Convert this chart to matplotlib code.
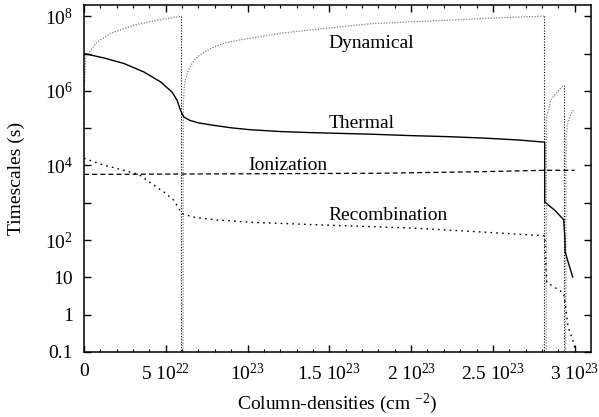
import matplotlib
matplotlib.use("Agg")
import matplotlib.pyplot as plt
import numpy as np
from matplotlib.ticker import FixedLocator, NullLocator

plt.rcParams['font.family'] = ['Liberation Serif', 'DejaVu Serif']
plt.rcParams['mathtext.fontset'] = 'custom'
plt.rcParams['mathtext.rm'] = 'Liberation Serif'
plt.rcParams['mathtext.it'] = 'Liberation Serif:italic'

# column densities in units of 1e22 cm^-2
SCALE = 1e22

thermal_x = [0, 1.22, 2.44, 3.66, 4.68, 5.38, 5.69, 5.90, 6.10, 6.46, 7.0, 7.87, 9.0,
             10.12, 12.0, 13.78, 17.44, 20.0, 22.32, 24.5, 26.59, 28.17,
             28.17, 28.8, 29.33, 29.40, 29.42, 29.65, 29.88]
thermal_y = [1.0e7, 7.6e6, 5.4e6, 3.2e6, 1.74e6, 9.3e5, 5.6e5, 3.0e5, 2.0e5, 1.62e5,
             1.38e5, 1.2e5, 1.02e5, 9.1e4, 8.1e4, 7.6e4, 6.9e4, 6.3e4, 5.9e4, 5.4e4,
             4.8e4, 4.2e4, 1.05e3, 620, 350, 120, 48, 22, 10.2]

recomb_x = [0, 1.22, 2.44, 3.35, 4.07, 4.88, 5.49, 5.79, 5.99, 6.71, 8.0, 10.12, 12.5,
            15.0, 17.44, 20.0, 22.32, 25.0, 28.17, 28.29, 28.8, 29.33, 29.45, 29.6,
            29.88, 30.1]
recomb_y = [1.55e4, 1.02e4, 7.4e3, 5.75e3, 3.4e3, 1.95e3, 1.17e3, 710, 510, 410, 350,
            300, 275, 250, 230, 210, 185, 158, 130, 7.4, 5.3, 3.8, 1.6, 0.47, 0.21, 0.09]

ion_x = [0, 18, 24, 28.17, 30]
ion_y = [5750, 6170, 6760, 7410, 7410]

dyn_segments_x = [
    [0, 0.05, 0.1, 0.41, 0.81, 1.63, 3.05, 4.47, 5.93],
    [6.05, 6.07, 6.12, 6.16, 6.3, 6.46, 6.8, 7.2, 7.8, 8.6, 9.5, 10.6, 12.0, 13.66,
     15.5, 17.56, 20.5, 23.54, 26.0, 28.11],
    [28.26, 28.27, 28.4, 28.55, 28.8, 29.0, 29.33],
    [29.45, 29.47, 29.55, 29.7, 29.94],
]
dyn_segments_y = [
    [5.6e5, 2.5e6, 7.9e6, 1.23e7, 2.04e7, 3.47e7, 5.75e7, 7.76e7, 1.0e8],
    [1e-3, 4.0e5, 1.12e6, 1.58e6, 2.8e6, 4.3e6, 7.1e6, 1.0e7, 1.41e7, 1.9e7, 2.3e7,
     2.75e7, 3.5e7, 4.2e7, 5.1e7, 6.3e7, 7.2e7, 8.3e7, 9.3e7, 1.0e8],
    [1e-3, 2.0e5, 3.0e5, 5.6e5, 8.0e5, 1.0e6, 1.4e6],
    [1e-3, 5.0e4, 1.2e5, 2.0e5, 3.2e5],
]
dyn_drops = [True, True, True, False]

x_ticks = [0, 5, 10, 15, 20, 25, 30]
x_ticklabels = ['0', r'$\mathregular{5\ 10^{22}}$', r'$\mathregular{10^{23}}$',
                r'$\mathregular{1.5\ 10^{23}}$', r'$\mathregular{2\ 10^{23}}$',
                r'$\mathregular{2.5\ 10^{23}}$', r'$\mathregular{3\ 10^{23}}$']
y_ticks = [0.1, 1, 10, 1e2, 1e3, 1e4, 1e5, 1e6, 1e7, 1e8]
y_ticklabels = ['0.1', '1', '10', r'$\mathregular{10^{2}}$', '', r'$\mathregular{10^{4}}$', '',
                r'$\mathregular{10^{6}}$', '', r'$\mathregular{10^{8}}$']

labels = [("Dynamical", 17.56, 10**7.28), ("Thermal", 16.95, 10**5.13),
          ("Ionization", 12.44, 10**4.01), ("Recombination", 18.6, 10**2.67)]

fig = plt.figure(figsize=(5.99, 4.17), dpi=100)
ax = fig.add_axes([84/599, 1-352/417, (591-84)/599, (352-5)/417])
ax.set_yscale('log')
ax.set_xlim(0, 31.0 * SCALE)
ax.set_ylim(0.1, 10**8.3)

# dynamical
for sx, sy, drop in zip(dyn_segments_x, dyn_segments_y, dyn_drops):
    xs = np.array(sx) * SCALE
    ax.plot(xs, sy, color='#808080', lw=0.9, linestyle=(0, (1, 1.2)))
    if drop:
        ax.plot([xs[-1], xs[-1]], [sy[-1], 1e-3], color='black', lw=0.8,
                linestyle=(0, (1, 1.5)))

ax.plot(np.array(thermal_x) * SCALE, thermal_y, color='black', lw=1.0)
ax.plot(np.array(ion_x) * SCALE, ion_y, color='black', lw=0.9, linestyle=(0, (4, 2.5)))
ax.plot(np.array(recomb_x) * SCALE, recomb_y, color='black', lw=1.0, linestyle=(0, (1.2, 3)))

for txt, lx, ly in labels:
    ax.text(lx * SCALE, ly, txt, ha='center', va='center', fontsize=14)

ax.xaxis.set_major_locator(FixedLocator(np.array(x_ticks) * SCALE))
ax.set_xticklabels(x_ticklabels)
ax.xaxis.set_minor_locator(FixedLocator(np.arange(0, 31) * SCALE))
ax.yaxis.set_major_locator(FixedLocator(y_ticks))
ax.set_yticklabels(y_ticklabels)
ax.yaxis.set_minor_locator(NullLocator())

ax.tick_params(which='both', direction='in', top=True, right=True, labelsize=14)
ax.tick_params(which='major', length=5, width=1.0, pad=8)
ax.tick_params(which='minor', length=2.5, width=0.8)
for s in ax.spines.values():
    s.set_linewidth(1.1)

ax.set_xlabel(r'Column-densities (cm $\mathregular{^{-2}}$)', fontsize=14, labelpad=5)
ax.set_ylabel('Timescales (s)', fontsize=14, labelpad=14)

fig.savefig('out.png', dpi=100)
